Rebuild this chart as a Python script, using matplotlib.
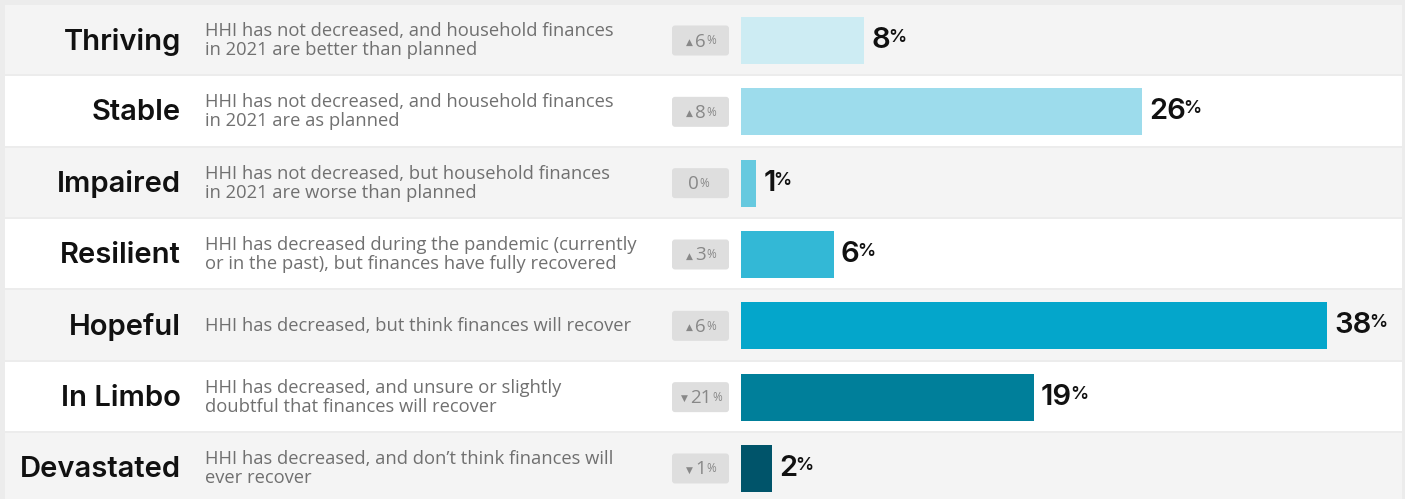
import matplotlib
matplotlib.use("Agg")
import matplotlib.pyplot as plt
from matplotlib.patches import Rectangle, FancyBboxPatch

# segments of households, share and change vs. last wave
segments = ["Thriving", "Stable", "Impaired", "Resilient", "Hopeful", "In Limbo", "Devastated"]
descriptions = [
    "HHI has not decreased, and household finances\nin 2021 are better than planned",
    "HHI has not decreased, and household finances\nin 2021 are as planned",
    "HHI has not decreased, but household finances\nin 2021 are worse than planned",
    "HHI has decreased during the pandemic (currently\nor in the past), but finances have fully recovered",
    "HHI has decreased, but think finances will recover",
    "HHI has decreased, and unsure or slightly\ndoubtful that finances will recover",
    "HHI has decreased, and don\u2019t think finances will\never recover",
]
shares = [8, 26, 1, 6, 38, 19, 2]
changes = [6, 8, 0, 3, 6, -21, -1]
colors = ["#cdecf3", "#9ddcec", "#66c9df", "#33b8d6", "#04a6cb", "#007f9a", "#00546a"]

W, H = 1405, 499
ROW0, PITCH = 40.5, 71.33
BAR_X0, PX_PER_PCT = 741, 15.42

plt.rcParams["font.family"] = ["Open Sans", "DejaVu Sans"]
HEAD = ["Inter", "Open Sans", "DejaVu Sans"]

fig = plt.figure(figsize=(W / 100, H / 100), dpi=100, facecolor="#ececec")

# background axes in pixel units: row bands, labels, change badges
bg = fig.add_axes([0, 0, 1, 1])
bg.set_xlim(0, W)
bg.set_ylim(H, 0)
bg.axis("off")

for i, (seg, desc, chg) in enumerate(zip(segments, descriptions, changes)):
    top = 5 + i * PITCH
    cy = ROW0 + i * PITCH
    face = "#f4f4f4" if i % 2 == 0 else "#ffffff"
    bg.add_patch(Rectangle((5, top), 1397, PITCH - 2, facecolor=face, edgecolor="none"))
    bg.text(181, cy + 1, seg, ha="right", va="center", fontsize=21,
            fontweight="semibold", family=HEAD, color="#111111")
    bg.text(205, cy, desc, ha="left", va="center", fontsize=13.2,
            color="#707070", linespacing=1.08)

    # change badge
    bg.add_patch(FancyBboxPatch((672, cy - 15), 57, 30,
                                boxstyle="round,pad=0,rounding_size=3",
                                facecolor="#dedede", edgecolor="none"))
    if chg > 0:
        arrow = "\u25b2"
    elif chg < 0:
        arrow = "\u25bc"
    else:
        arrow = ""
    nx = 690 if abs(chg) >= 10 else 695
    num = bg.text(nx if arrow else 688, cy + 1, str(abs(chg)), ha="left",
                  va="center", fontsize=13.5, color="#888888")
    if arrow:
        bg.annotate(arrow, xy=(0, 0.5), xycoords=num, xytext=(-1.5, -0.5),
                    textcoords="offset points", ha="right", va="center",
                    fontsize=6.5, color="#888888", family=["DejaVu Sans"])
    bg.annotate("%", xy=(1, 0.9), xycoords=num, xytext=(0.5, 0),
                textcoords="offset points", ha="left", va="top",
                fontsize=8.5, color="#888888")

# bar axes: x in percent, y in row index
ax = fig.add_axes([BAR_X0 / W, 0, 1 - BAR_X0 / W, 1])
ax.set_xlim(0, (W - BAR_X0) / PX_PER_PCT)
ax.set_ylim((H - ROW0) / PITCH, -ROW0 / PITCH)
ax.axis("off")
ax.patch.set_alpha(0)

ypos = list(range(len(segments)))
ax.barh(ypos, shares, height=0.66, color=colors)

for y, v in zip(ypos, shares):
    t = ax.annotate(str(v), xy=(v, y), xytext=(5, 0), textcoords="offset points",
                    ha="left", va="center", fontsize=21, fontweight="semibold",
                    family=HEAD, color="#111111")
    ax.annotate("%", xy=(1, 0.92), xycoords=t, xytext=(-1.5, 0),
                textcoords="offset points", ha="left", va="top",
                fontsize=13, fontweight="semibold", family=HEAD, color="#111111")

fig.savefig("out.png", dpi=100, facecolor=fig.get_facecolor())
